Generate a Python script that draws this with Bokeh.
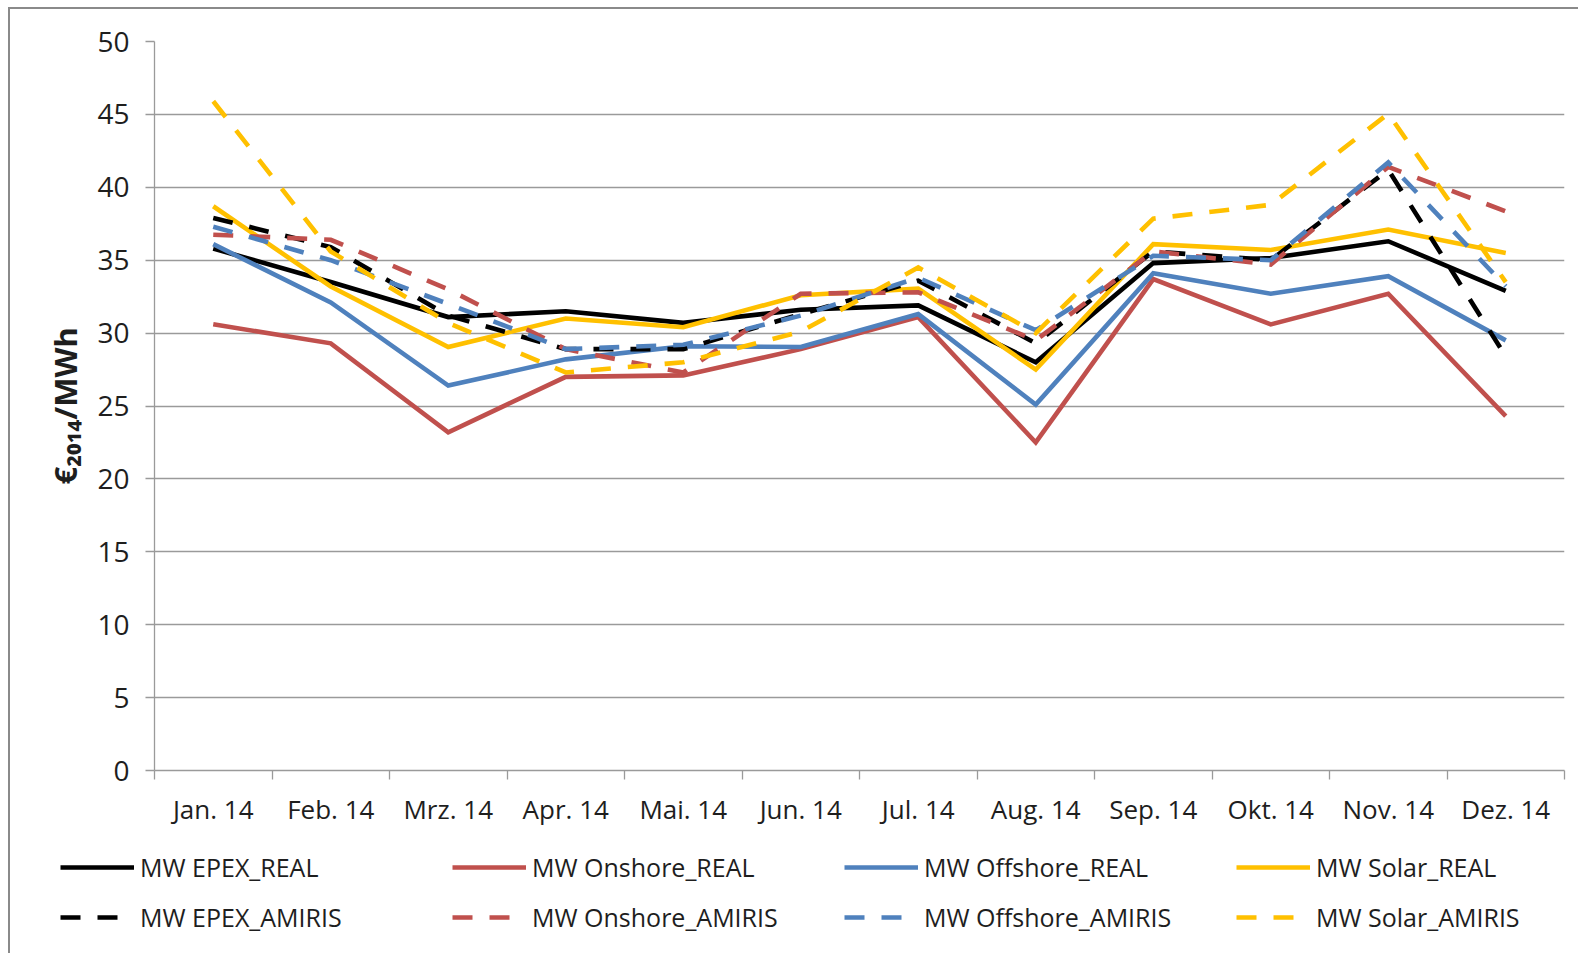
import math
from bokeh.plotting import figure
from bokeh.models import FixedTicker, Legend, LegendItem, Range1d
from bokeh.embed import file_html
from bokeh.resources import INLINE

months = ["Jan. 14", "Feb. 14", "Mrz. 14", "Apr. 14", "Mai. 14", "Jun. 14",
          "Jul. 14", "Aug. 14", "Sep. 14", "Okt. 14", "Nov. 14", "Dez. 14"]

epex_real = [35.8, 33.5, 31.1, 31.5, 30.7, 31.6, 31.9, 28.0, 34.8, 35.15, 36.3, 32.9]
onshore_real = [30.6, 29.3, 23.2, 27.0, 27.1, 28.9, 31.1, 22.5, 33.7, 30.6, 32.7, 24.3]
offshore_real = [36.1, 32.1, 26.4, 28.2, 29.1, 29.05, 31.3, 25.1, 34.1, 32.7, 33.9, 29.5]
solar_real = [38.7, 33.2, 29.05, 31.0, 30.4, 32.6, 33.05, 27.5, 36.1, 35.7, 37.1, 35.5]
epex_amiris = [37.9, 35.9, 31.2, 28.9, 28.9, 31.3, 33.6, 29.3, 35.6, 35.0, 41.2, 28.4]
onshore_amiris = [36.75, 36.4, 33.0, 28.9, 27.3, 32.7, 32.8, 29.5, 35.6, 34.7, 41.4, 38.35]
offshore_amiris = [37.3, 35.0, 32.0, 28.9, 29.2, 31.2, 33.8, 30.2, 35.3, 35.0, 41.7, 33.2]
solar_amiris = [45.9, 35.6, 30.7, 27.3, 28.0, 30.1, 34.5, 30.0, 37.85, 38.8, 45.05, 33.5]

series = [
    ("MW EPEX_REAL", epex_real, "#000000", "solid"),
    ("MW Onshore_REAL", onshore_real, "#c0504d", "solid"),
    ("MW Offshore_REAL", offshore_real, "#4f81bd", "solid"),
    ("MW Solar_REAL", solar_real, "#ffc000", "solid"),
    ("MW EPEX_AMIRIS", epex_amiris, "#000000", "20 17"),
    ("MW Onshore_AMIRIS", onshore_amiris, "#c0504d", "20 17"),
    ("MW Offshore_AMIRIS", offshore_amiris, "#4f81bd", "20 17"),
    ("MW Solar_AMIRIS", solar_amiris, "#ffc000", "20 17"),
]

xs = [i + 0.5 for i in range(len(months))]

# ---- main chart ----
p = figure(width=1570, height=836, output_backend="svg", toolbar_location=None,
           x_range=Range1d(0, len(months)), y_range=Range1d(0, 50),
           min_border_left=144, min_border_right=16, min_border_top=32,
           min_border_bottom=75,
           styles={"border-left": "2px solid #8a8a8a", "border-top": "2px solid #8a8a8a",
                   "margin-left": "8px", "margin-top": "7px"})
p.outline_line_color = None
p.background_fill_color = "white"
p.border_fill_color = "white"

p.xgrid.grid_line_color = None
p.ygrid.grid_line_color = "#9a9a9a"
p.ygrid.grid_line_width = 1.3

p.yaxis.ticker = FixedTicker(ticks=list(range(0, 51, 5)))
p.yaxis.axis_line_color = "#9a9a9a"
p.yaxis.axis_line_width = 1.3
p.yaxis.major_tick_line_color = "#9a9a9a"
p.yaxis.major_tick_line_width = 1.3
p.yaxis.major_tick_out = 9
p.yaxis.major_tick_in = 0
p.yaxis.minor_tick_line_color = None
p.yaxis.major_label_text_font = "Open Sans"
p.yaxis.major_label_text_font_size = "28px"
p.yaxis.major_label_text_color = "#1e1e1e"
p.yaxis.major_label_standoff = 16
p.yaxis.axis_label = "€₂₀₁₄/MWh"
p.yaxis.axis_label_text_font = "Noto Sans"
p.yaxis.axis_label_text_font_size = "31px"
p.yaxis.axis_label_text_font_style = "bold"
p.yaxis.axis_label_text_color = "#1e1e1e"
p.yaxis.axis_label_standoff = 8

p.xaxis.ticker = FixedTicker(ticks=xs, minor_ticks=list(range(0, len(months) + 1)))
p.xaxis.major_label_overrides = {x: m for x, m in zip(xs, months)}
p.xaxis.axis_line_color = "#9a9a9a"
p.xaxis.axis_line_width = 1.3
p.xaxis.major_tick_line_color = None
p.xaxis.major_tick_out = 9
p.xaxis.major_tick_in = 0
p.xaxis.minor_tick_line_color = "#9a9a9a"
p.xaxis.minor_tick_line_width = 1.3
p.xaxis.minor_tick_out = 9
p.xaxis.minor_tick_in = 0
p.xaxis.major_label_text_font = "Open Sans"
p.xaxis.major_label_text_font_size = "26px"
p.xaxis.major_label_text_color = "#1e1e1e"
p.xaxis.major_label_standoff = 11

for name, vals, color, dash in series:
    p.line(xs, vals, line_color=color, line_width=4.6, line_dash=dash,
           line_join="miter", line_cap="butt")

# ---- legend strip (separate root, so its frame is not aligned with the chart's) ----
lf = figure(width=1570, height=110, output_backend="svg", toolbar_location=None,
            x_range=Range1d(0, 1), y_range=Range1d(0, 1),
            x_axis_type=None, y_axis_type=None,
            min_border_left=0, min_border_right=0, min_border_top=0, min_border_bottom=0,
            styles={"border-left": "2px solid #8a8a8a", "margin-left": "8px"})
lf.outline_line_color = None
lf.grid.visible = False
lf.background_fill_color = "white"
lf.border_fill_color = "white"

items = []
for name, vals, color, dash in series:
    # legend-only renderer, placed outside the visible range
    r = lf.line([-5, -4], [-5, -5], line_color=color, line_width=4.6, line_dash=dash,
                line_cap="butt")
    items.append(LegendItem(label=name, renderers=[r]))

legend = Legend(items=items, location=(50, 16), orientation="horizontal", ncols=4,
                glyph_width=74, glyph_height=40, label_height=40, label_width=302,
                label_standoff=6, spacing=10, padding=0, margin=0,
                border_line_color=None, background_fill_alpha=0,
                label_text_font="Open Sans", label_text_font_size="25px",
                label_text_color="#1e1e1e")
lf.add_layout(legend, "center")

open("out.html", "w").write(file_html([p, lf], INLINE))
